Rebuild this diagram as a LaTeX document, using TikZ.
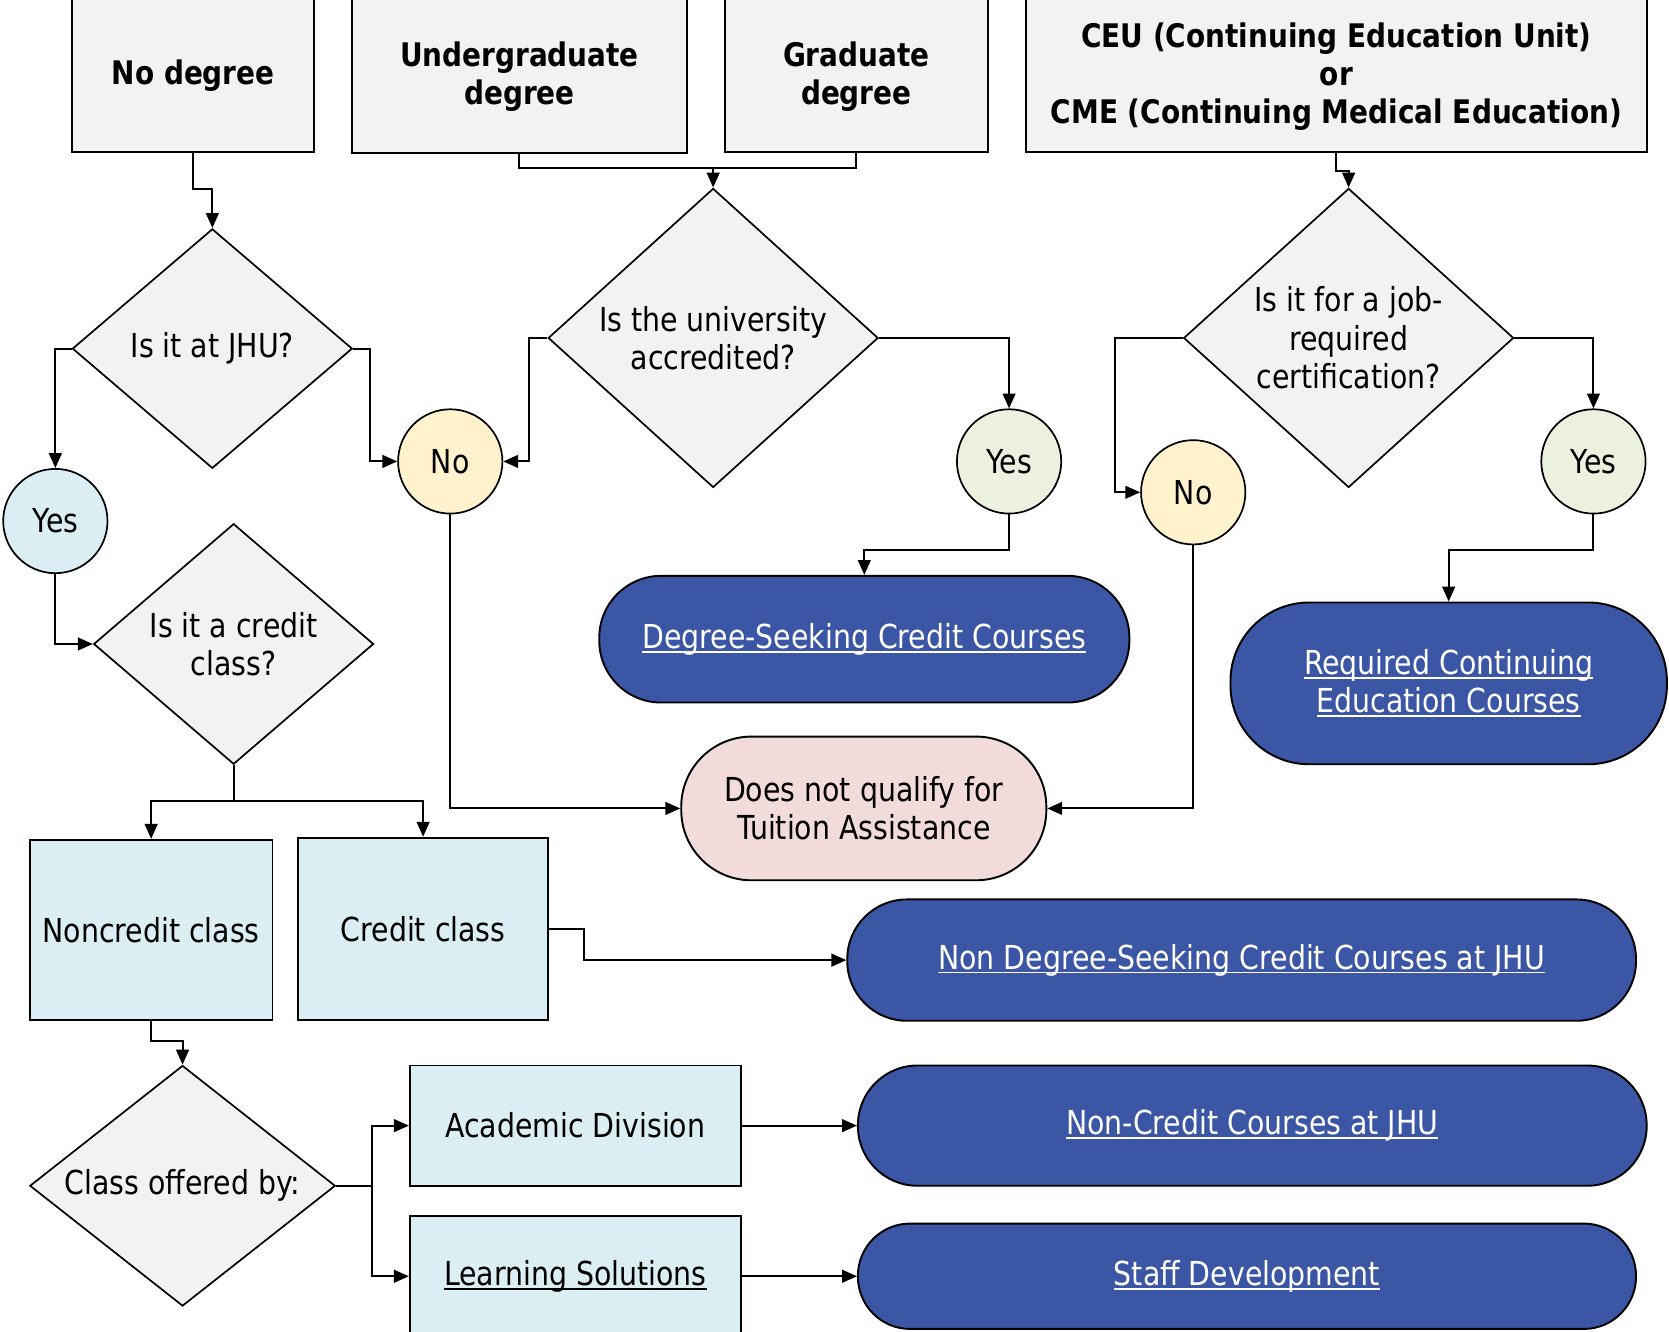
\documentclass[tikz,border=0pt]{standalone}
\usepackage{fontspec}
\setmainfont{DejaVu Sans}[FakeStretch=0.86]
\usetikzlibrary{arrows.meta,shapes.geometric}
\newcommand\ulin[1]{\setbox0\hbox{#1}\rlap{\rule[-4pt]{\wd0}{1.6pt}}\box0}
\definecolor{graybg}{HTML}{F2F2F2}
\definecolor{ltblue}{HTML}{DAEEF3}
\definecolor{ltyellow}{HTML}{FFF2CC}
\definecolor{ltgreen}{HTML}{EBF1DE}
\definecolor{ltpink}{HTML}{F2DCDB}
\definecolor{termblue}{RGB}{59,86,165}
\tikzset{
  conn/.style={line width=1.8pt, draw=black},
  arr/.style={conn, -{Triangle[length=14pt,width=12pt]}},
  txt/.style={font=\fontsize{31}{36}\selectfont, align=center, inner sep=0pt},
  hdr/.style={draw, line width=1.8pt, fill=graybg, font=\bfseries\fontsize{30.5}{36}\selectfont, align=center, inner sep=0pt},
  dec/.style={diamond, draw, line width=1.6pt, fill=graybg, txt},
  ans/.style={circle, draw, line width=1.6pt, txt, minimum size=98pt},
  bbox/.style={rectangle, draw, line width=1.8pt, fill=ltblue, txt},
  term/.style={rectangle, draw, line width=1.8pt, fill=termblue, text=white, txt},
  nq/.style={rectangle, draw, line width=1.8pt, fill=ltpink, txt}
}
\begin{document}
\begin{tikzpicture}[x=1pt,y=-1pt]
\useasboundingbox (0,0) rectangle (1568,1251);
\clip (0,0) rectangle (1568,1251);
% header boxes
\node[hdr, minimum width=227pt, minimum height=150pt] (nodeg) at (181.5,68) {};
\node[hdr, minimum width=314pt, minimum height=151pt] (ugrad) at (488,68.5) {};
\node[hdr, minimum width=247pt, minimum height=150pt] (grad) at (804.5,68) {};
\node[hdr, minimum width=583pt, minimum height=150pt] (ceu) at (1255.5,68) {};
\node[hdr, draw=none, fill=none] (nodegtxt) at (181.5,71) {No degree};
\node[hdr, draw=none, fill=none] (ugradtxt) at (488,72) {Undergraduate\\degree};
\node[hdr, draw=none, fill=none] (gradtxt) at (804.5,72) {Graduate\\degree};
\node[hdr, draw=none, fill=none] (ceutxt) at (1255.5,72) {CEU (Continuing Education Unit)\\or\\CME (Continuing Medical Education)};
% decisions
\node[dec, minimum width=263pt, minimum height=225pt] (jhu) at (199.5,327.5) {Is it at JHU?};
\node[dec, minimum width=310pt, minimum height=281pt] (univ) at (670,317.5) {Is the university\\accredited?};
\node[dec, minimum width=310pt, minimum height=281pt] (job) at (1267,317.5) {Is it for a job-\\required\\certification?};
\node[dec, minimum width=263pt, minimum height=226pt] (credit) at (219.5,605) {Is it a credit\\class?};
\node[dec, minimum width=287pt, minimum height=226pt] (offered) at (171.5,1114) {};
\node[txt] (offeredtxt) at (offered.center) {Class offered by:};
% answers
\node[ans, fill=ltblue] (yes1) at (52,489.5) {Yes};
\node[ans, fill=ltyellow] (no1) at (423,433.5) {No};
\node[ans, fill=ltgreen] (yes2) at (948,433.5) {Yes};
\node[ans, fill=ltyellow] (no2) at (1121,462.5) {No};
\node[ans, fill=ltgreen] (yes3) at (1497,433.5) {Yes};
% class boxes
\node[bbox, minimum width=228pt, minimum height=169pt] (noncr) at (142,873.5) {Noncredit class};
\node[bbox, minimum width=235pt, minimum height=171pt] (cred) at (397.5,872.5) {Credit class};
\node[bbox, minimum width=311pt, minimum height=113pt] (acad) at (540.5,1057.5) {Academic Division};
\node[bbox, minimum width=311pt, minimum height=114pt] (learn) at (540.5,1199) {\ulin{Learning Solutions}};
% terminals
\node[term, rounded corners=58pt, minimum width=498pt, minimum height=119pt] (degs) at (812,600.5) {\ulin{Degree-Seeking Credit Courses}};
\node[term, rounded corners=74pt, minimum width=410pt, minimum height=152pt] (req) at (1361,642) {\ulin{Required Continuing}\\\ulin{Education Courses}};
\node[nq, rounded corners=66pt, minimum width=343pt, minimum height=135pt] (dnq) at (811.5,759.5) {Does not qualify for\\Tuition Assistance};
\node[term, rounded corners=56pt, minimum width=741pt, minimum height=114pt] (ndsc) at (1166.5,902) {\ulin{Non Degree-Seeking Credit Courses at JHU}};
\node[term, rounded corners=56pt, minimum width=741pt, minimum height=113pt] (ncc) at (1176.5,1057.5) {\ulin{Non-Credit Courses at JHU}};
\node[term, rounded corners=49pt, minimum width=731pt, minimum height=99pt] (staff) at (1171.5,1199) {\ulin{Staff Development}};
% connectors
\draw[arr] (nodeg.south) -- ++(0,34) -| (jhu.north);
\coordinate (m1) at (670,158);
\draw[conn] (ugrad.south) |- (m1);
\draw[conn] (grad.south) |- (m1);
\draw[arr] (m1) -- (univ.north);
\draw[arr] (ceu.south) -- ++(0,17) -| (job.north);
\draw[arr] (jhu.west) -| (yes1.north);
\draw[arr] (jhu.east) -- ++(16,0) |- (no1.west);
\draw[arr] (univ.west) -- ++(-17,0) |- (no1.east);
\draw[arr] (univ.east) -| (yes2.north);
\draw[arr] (yes2.south) -- ++(0,33) -| (degs.north);
\draw[arr] (job.west) -- ++(-64,0) |- (no2.west);
\draw[arr] (job.east) -| (yes3.north);
\draw[arr] (yes3.south) -- ++(0,33) -| (req.north);
\draw[arr] (no1.south) |- (dnq.west);
\draw[arr] (no2.south) |- (dnq.east);
\draw[arr] (yes1.south) |- (credit.west);
\draw[conn] (credit.south) -- ++(0,34) coordinate (m2);
\draw[arr] (m2) -| (noncr.north);
\draw[arr] (m2) -| (cred.north);
\draw[arr] (cred.east) -- ++(33,0) |- (ndsc.west);
\draw[arr] (noncr.south) -- ++(0,19) -| (offered.north);
\draw[conn] (offered.east) -- ++(34,0) coordinate (m3);
\draw[arr] (m3) |- (acad.west);
\draw[arr] (m3) |- (learn.west);
\draw[arr] (acad.east) -- (ncc.west);
\draw[arr] (learn.east) -- (staff.west);
\end{tikzpicture}
\end{document}
